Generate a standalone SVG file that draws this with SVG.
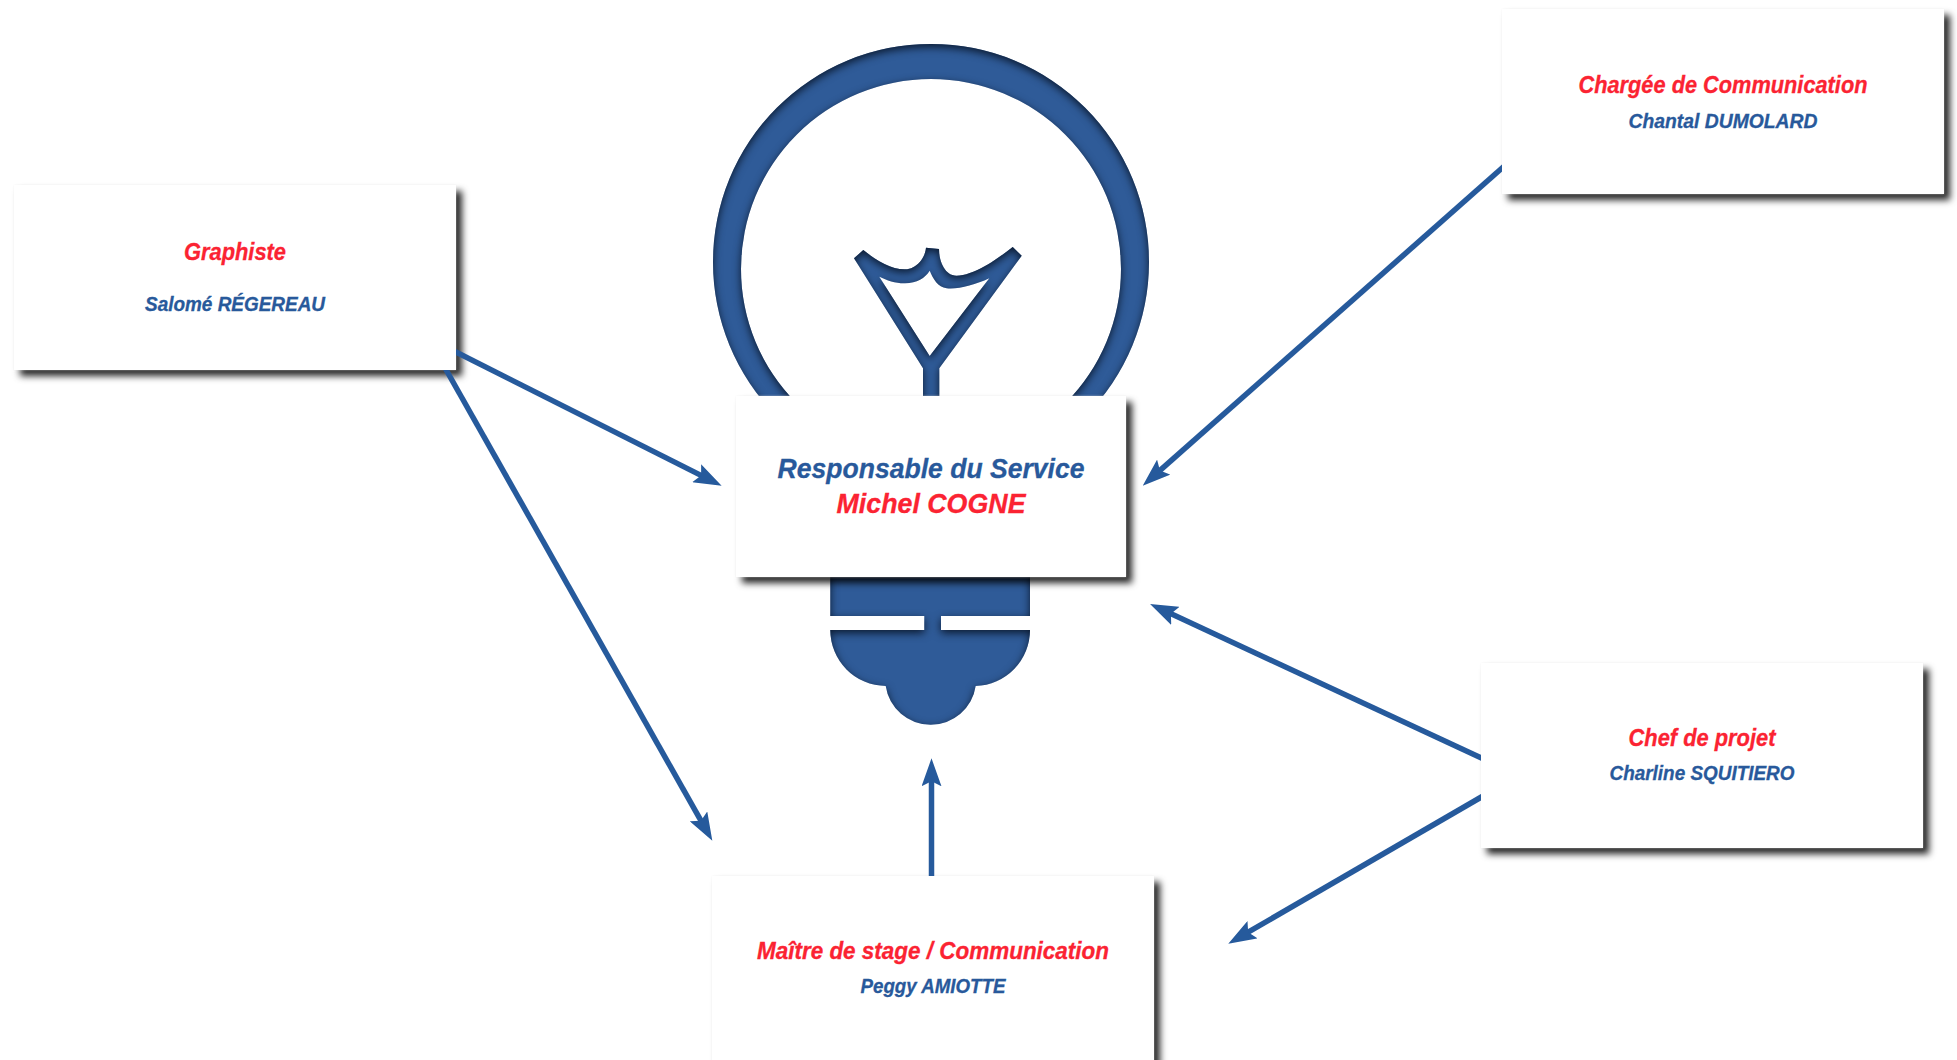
<svg xmlns="http://www.w3.org/2000/svg" width="1957" height="1060" viewBox="0 0 1957 1060">
  <style>
    text { font-family: "Liberation Sans", Arial, sans-serif; font-weight: 700; font-style: italic; text-anchor: middle; stroke-width: 0.3px; }
    .red { fill: #fb2332; stroke: #fb2332; }
    .blue { fill: #28599b; stroke: #28599b; }
    .big { font-size: 28px; }
    .mid { font-size: 23px; }
    .small { font-size: 20px; }
    .card { fill: #ffffff; filter: url(#cardShadow); }
    .bulb { fill: #2f5b98; fill-rule: evenodd; filter: url(#inner); }
    .link { fill: none; stroke: #265a9c; stroke-width: 5.5; marker-end: url(#head); }
  </style>
  <defs>
    <filter id="inner" x="-5%" y="-5%" width="110%" height="110%" color-interpolation-filters="sRGB">
      <feOffset in="SourceAlpha" dy="3" result="off"/>
      <feGaussianBlur in="off" stdDeviation="4" result="blur"/>
      <feComposite in="SourceAlpha" in2="blur" operator="out" result="edge"/>
      <feFlood flood-color="#081528" flood-opacity="0.95"/>
      <feComposite in2="edge" operator="in" result="shade"/>
      <feMerge><feMergeNode in="SourceGraphic"/><feMergeNode in="shade"/></feMerge>
    </filter>
    <filter id="cardShadow" x="-5%" y="-10%" width="112%" height="125%" color-interpolation-filters="sRGB">
      <feGaussianBlur in="SourceAlpha" stdDeviation="0.8" result="h"/>
      <feFlood flood-color="#ececec" flood-opacity="0.6"/>
      <feComposite in2="h" operator="in" result="halo"/>
      <feGaussianBlur in="SourceAlpha" stdDeviation="3.5" result="b"/>
      <feOffset in="b" dx="6" dy="6" result="o"/>
      <feFlood flood-color="#000000" flood-opacity="0.85"/>
      <feComposite in2="o" operator="in" result="s"/>
      <feMerge><feMergeNode in="s"/><feMergeNode in="halo"/><feMergeNode in="SourceGraphic"/></feMerge>
    </filter>
    <marker id="head" markerUnits="userSpaceOnUse" viewBox="0 0 28 20" markerWidth="28" markerHeight="20" refX="6" refY="10" orient="auto">
      <path d="M28 10 L0 0 L5 10 L0 20 Z" fill="#265a9c"/>
    </marker>
    <clipPath id="outsideCards">
      <path clip-rule="evenodd" d="M0 0H1957V1060H0Z M14 185H456V370H14Z M1502 9H1944V194H1502Z M1481 663H1923V848H1481Z M712 876H1154V1060H712Z M736 396H1126V577H736Z"/>
    </clipPath>
  </defs>

  <rect width="1957" height="1060" fill="#ffffff"/>

  <g id="bulb">
    <path class="bulb" d="M713 262 A218 218 0 1 1 1149 262 A218 218 0 1 1 713 262 Z M741 269 A190 190 0 1 0 1121 269 A190 190 0 1 0 741 269 Z"/>
    <path class="bulb" d="M854 258.3 L863.3 250 C878 262 892 269.5 905 269.3 C917 269 925 258 926 247.7 L939 249 C939 263 946 276 956.7 275.7 C973 275.5 995 261 1012.7 247 L1021.7 255.7 L939.3 368.3 V400 H923 V368.3 Z M879.3 276.7 L929.7 356 L989.3 278.3 C975 285 958 289.5 946.7 288.3 C938 287 933 279 929.7 270.7 C925 278 917 283.2 905 283.3 C896 283.5 887 280.5 879.3 276.7 Z"/>
    <path class="bulb" d="M830.3 560 H1030 V616 H941 V630 H1030 A56 56 0 0 1 975.7 686 A45.5 45.5 0 0 1 885.7 686 A56 56 0 0 1 830.3 630 H924.3 V616 H830.3 Z"/>
  </g>

  <g id="node-responsable">
    <rect class="card" x="736" y="396" width="390" height="181"/>
    <text class="blue big" x="931" y="478" textLength="307" lengthAdjust="spacingAndGlyphs">Responsable du Service</text>
    <text class="red big" x="931" y="513.3" textLength="189" lengthAdjust="spacingAndGlyphs">Michel COGNE</text>
  </g>
  <g id="node-graphiste">
    <rect class="card" x="14" y="185" width="442" height="185"/>
    <text class="red mid" x="235" y="260" textLength="102" lengthAdjust="spacingAndGlyphs">Graphiste</text>
    <text class="blue small" x="235" y="311.4" textLength="180" lengthAdjust="spacingAndGlyphs">Salomé RÉGEREAU</text>
  </g>
  <g id="node-chargee">
    <rect class="card" x="1502" y="9" width="442" height="185"/>
    <text class="red mid" x="1723" y="92.7" textLength="289" lengthAdjust="spacingAndGlyphs">Chargée de Communication</text>
    <text class="blue small" x="1723" y="127.6" textLength="189" lengthAdjust="spacingAndGlyphs">Chantal DUMOLARD</text>
  </g>
  <g id="node-chef">
    <rect class="card" x="1481" y="663" width="442" height="185"/>
    <text class="red mid" x="1702" y="746" textLength="147" lengthAdjust="spacingAndGlyphs">Chef de projet</text>
    <text class="blue small" x="1702" y="780" textLength="185" lengthAdjust="spacingAndGlyphs">Charline SQUITIERO</text>
  </g>
  <g id="node-maitre">
    <rect class="card" x="712" y="876" width="442" height="190"/>
    <text class="red mid" x="933" y="959.3" textLength="352" lengthAdjust="spacingAndGlyphs">Maître de stage / Communication</text>
    <text class="blue small" x="933" y="993" textLength="145" lengthAdjust="spacingAndGlyphs">Peggy AMIOTTE</text>
  </g>

  <g id="connectors" clip-path="url(#outsideCards)">
    <line class="link" x1="446" y1="347" x2="702" y2="475.9"/>
    <line class="link" x1="440" y1="359" x2="701.5" y2="821.6"/>
    <line class="link" x1="1510" y1="161" x2="1159.2" y2="471.1"/>
    <line class="link" x1="1490" y1="762" x2="1170" y2="613.3"/>
    <line class="link" x1="1490" y1="792" x2="1247.3" y2="932.7"/>
    <line class="link" x1="931.5" y1="885" x2="931.5" y2="780.3"/>
  </g>
</svg>
